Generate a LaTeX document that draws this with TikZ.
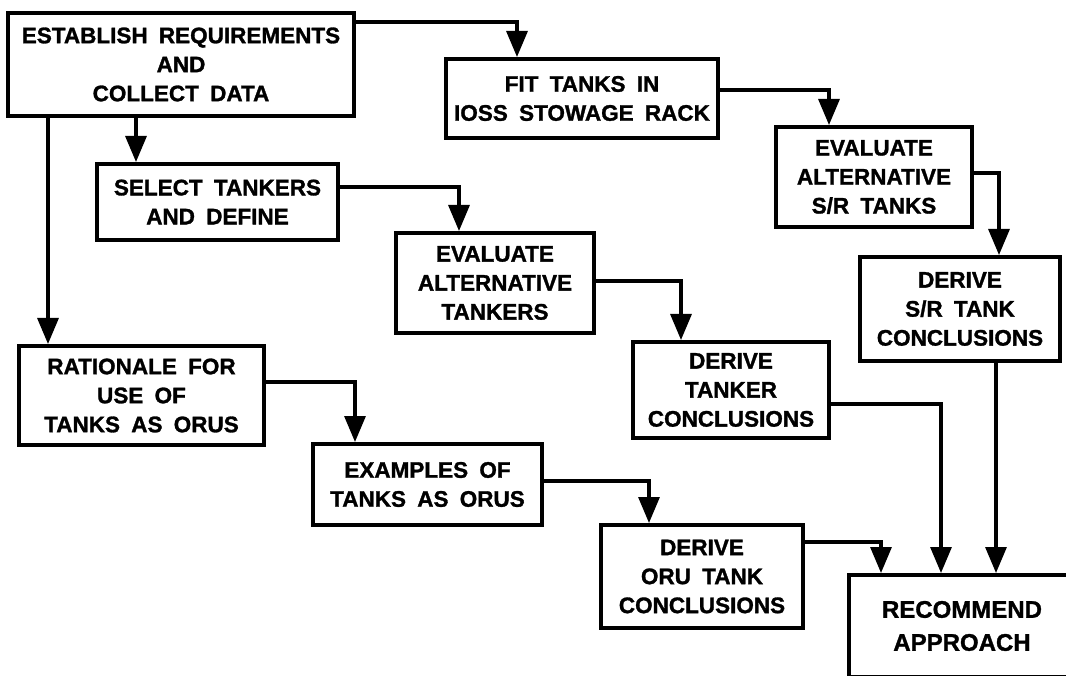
\documentclass[tikz,border=0pt]{standalone}
\usepackage{fontspec}
\setmainfont{Liberation Sans}
\newfontfamily\bxfont[WordSpace=1.8,FakeBold=1.3]{Liberation Sans}
\usetikzlibrary{arrows.meta}
\begin{document}
\begin{tikzpicture}[x=1pt,y=-1pt,
  box/.style={draw, line width=4pt, align=center, inner sep=0pt,
    font=\bxfont\bfseries\fontsize{22.5}{29}\selectfont},
  bigbox/.style={box, font=\bxfont\bfseries\fontsize{24}{33}\selectfont},
  arr/.style={line width=3.2pt, -{Triangle[length=26pt,width=21pt]}},
  ln/.style={line width=3.2pt}]
\fill[white] (0,0) rectangle (1066,676);
\useasboundingbox (0,0) rectangle (1066,676);

\node[box, minimum width=346pt, minimum height=103pt] (est) at (181,64.5) {ESTABLISH REQUIREMENTS\\AND\\COLLECT DATA};
\node[box, minimum width=272pt, minimum height=79pt] (fit) at (582,98.5) {FIT TANKS IN\\IOSS STOWAGE RACK};
\node[box, minimum width=241pt, minimum height=76pt] (sel) at (217.5,202) {SELECT TANKERS\\AND DEFINE};
\node[box, minimum width=196pt, minimum height=100pt] (evs) at (874,177) {EVALUATE\\ALTERNATIVE\\S/R TANKS};
\node[box, minimum width=198pt, minimum height=100pt] (evt) at (495,283) {EVALUATE\\ALTERNATIVE\\TANKERS};
\node[box, minimum width=200pt, minimum height=104pt] (dsr) at (960,309) {DERIVE\\S/R TANK\\CONCLUSIONS};
\node[box, minimum width=245pt, minimum height=99pt] (rat) at (141.5,395.5) {RATIONALE FOR\\USE OF\\TANKS AS ORUS};
\node[box, minimum width=196pt, minimum height=96pt] (dtk) at (731,390) {DERIVE\\TANKER\\CONCLUSIONS};
\node[box, minimum width=229pt, minimum height=81pt] (exa) at (427.5,484.5) {EXAMPLES OF\\TANKS AS ORUS};
\node[box, minimum width=202pt, minimum height=103pt] (dor) at (702,576.5) {DERIVE\\ORU TANK\\CONCLUSIONS};
\node[bigbox, minimum width=226pt, minimum height=102pt] (rec) at (962,626) {RECOMMEND\\APPROACH};

\coordinate (k1) at (517,22);
\coordinate (k2) at (136,0);
\coordinate (k3) at (48,0);
\coordinate (k4) at (829,90);
\coordinate (k5) at (459,187);
\coordinate (k6) at (999,173);
\coordinate (k7) at (681,281);
\coordinate (k8) at (996,0);
\coordinate (k9) at (355,382);
\coordinate (k10) at (941,404);
\coordinate (k11) at (649,481);
\coordinate (k12) at (881,542);

\draw[arr] (est.east |- k1) -| (fit.north -| k1);
\draw[arr] (est.south -| k2) -- (sel.north -| k2);
\draw[arr] (est.south -| k3) -- (rat.north -| k3);
\draw[arr] (fit.east |- k4) -| (evs.north -| k4);
\draw[arr] (sel.east |- k5) -| (evt.north -| k5);
\draw[arr] (evs.east |- k6) -| (dsr.north -| k6);
\draw[arr] (evt.east |- k7) -| (dtk.north -| k7);
\draw[arr] (dsr.south -| k8) -- (rec.north -| k8);
\draw[arr] (rat.east |- k9) -| (exa.north -| k9);
\draw[arr] (dtk.east |- k10) -| (rec.north -| k10);
\draw[arr] (exa.east |- k11) -| (dor.north -| k11);
\draw[arr] (dor.east |- k12) -| (rec.north -| k12);
\end{tikzpicture}
\end{document}
